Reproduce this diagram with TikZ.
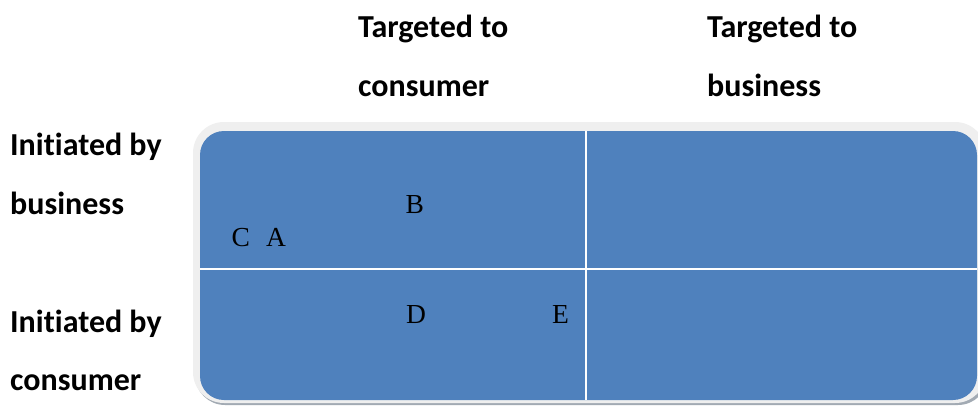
\documentclass[tikz,border=0pt]{standalone}
\usepackage{fontspec}
\newfontfamily\headfont[Ligatures=NoCommon]{Carlito}
\newfontfamily\letterfont{Liberation Serif}
\definecolor{cellblue}{HTML}{4F81BD}
\definecolor{rimgray}{HTML}{EFEFEF}
\definecolor{shadowgray}{HTML}{A2AAB3}
\tikzset{
  heading/.style={anchor=base west, inner sep=0pt, font=\headfont\bfseries\fontsize{32}{36}\selectfont},
  letter/.style={anchor=base west, inner sep=0pt, font=\letterfont\fontsize{27.5}{30}\selectfont, text=black},
  divider/.style={draw=white, line width=2pt}
}
\begin{document}
\begin{tikzpicture}[x=1pt,y=-1pt]
\useasboundingbox (0,0) rectangle (978,405);
\fill[white] (0,0) rectangle (978,405);

% matrix panel: shadow, light rim, blue face
\fill[shadowgray, rounded corners=30pt] (195,126) rectangle (988,405);
\fill[rimgray, rounded corners=31pt] (193,122) rectangle (986,403);
\fill[cellblue, rounded corners=24pt] (200,131) rectangle (977,400);

% quadrant dividers
\coordinate (vt) at (586,131);
\coordinate (vb) at (586,400);
\coordinate (hl) at (200,269);
\coordinate (hr) at (977,269);
\draw[divider] (vt) -- (vb);
\draw[divider] (hl) -- (hr);

% column headings
\node[heading] (tc1) at (358,37) {Targeted to};
\node[heading] (tc2) at (358,96.5) {consumer};
\node[heading] (tb1) at (707,37) {Targeted to};
\node[heading] (tb2) at (707,96.5) {business};

% row headings
\node[heading] (ib1) at (10,155.5) {Initiated by};
\node[heading] (ib2) at (10,214.5) {business};
\node[heading] (ic1) at (10,332) {Initiated by};
\node[heading] (ic2) at (10,390) {consumer};

% quadrant entries
\node[letter] (B) at (405.5,213.3) {B};
\node[letter] (C) at (231.5,246.7) {C};
\node[letter] (A) at (266,246.7) {A};
\node[letter] (D) at (406,323.3) {D};
\node[letter] (E) at (552,323.3) {E};
\end{tikzpicture}
\end{document}
